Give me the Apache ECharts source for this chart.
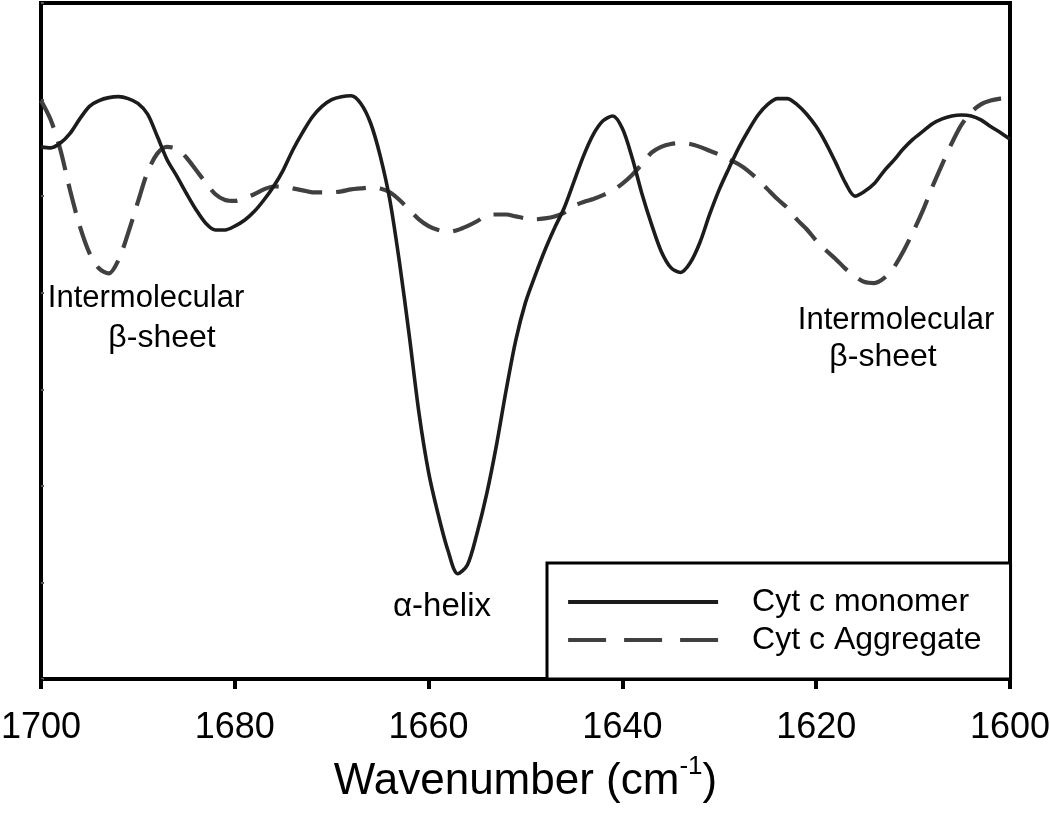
<!DOCTYPE html>
<html>
<head>
<meta charset="utf-8">
<script src="https://cdn.jsdelivr.net/npm/echarts@6/dist/echarts.min.js"></script>
<style>html,body{margin:0;padding:0;background:#fff}#c{width:1050px;height:831px}</style>
</head>
<body>
<div id="c"></div>
<script>
// Wavenumber (cm-1)
var wavenumbers = [1700,1699,1698,1697,1696,1695,1694,1693,1692,1691,1690,1689,1688,1687,1686,1685,1684,1683,1682,1681,
  1680,1679,1678,1677,1676,1675,1674,1673,1672,1671,1670,1669,1668,1667,1666,1665,1664,1663,1662,1661,
  1660,1659,1658,1657,1656,1655,1654,1653,1652,1651,1650,1649,1648,1647,1646,1645,1644,1643,1642,1641,
  1640,1639,1638,1637,1636,1635,1634,1633,1632,1631,1630,1629,1628,1627,1626,1625,1624,1623,1622,1621,
  1620,1619,1618,1617,1616,1615,1614,1613,1612,1611,1610,1609,1608,1607,1606,1605,1604,1603,1602,1601,1600];
// Spectra (arbitrary units)
var monomer = [5.51,5.50,5.55,5.65,5.80,5.93,5.99,6.02,6.03,6.01,5.96,5.85,5.62,5.38,5.21,5.03,4.86,4.72,4.65,4.65,
  4.69,4.75,4.84,4.96,5.10,5.27,5.48,5.66,5.82,5.93,6.00,6.03,6.04,5.96,5.76,5.42,4.96,4.31,3.56,2.76,
  2.14,1.70,1.33,1.09,1.18,1.51,1.92,2.42,2.99,3.51,3.90,4.18,4.44,4.67,4.88,5.15,5.42,5.64,5.78,5.83,
  5.70,5.40,5.03,4.71,4.43,4.26,4.21,4.31,4.52,4.81,5.07,5.29,5.50,5.68,5.84,5.95,6.01,6.01,5.95,5.85,
  5.72,5.55,5.35,5.14,5.00,5.05,5.13,5.26,5.37,5.49,5.59,5.67,5.75,5.80,5.83,5.84,5.83,5.79,5.72,5.66,5.59];
var aggregate = [5.99,5.79,5.48,5.06,4.69,4.41,4.25,4.20,4.34,4.62,4.94,5.25,5.44,5.51,5.49,5.40,5.27,5.14,5.02,4.96,
  4.95,4.98,5.02,5.07,5.10,5.10,5.08,5.06,5.04,5.04,5.04,5.05,5.07,5.08,5.09,5.08,5.04,4.96,4.86,4.76,
  4.69,4.65,4.63,4.65,4.69,4.74,4.80,4.81,4.81,4.79,4.77,4.76,4.77,4.79,4.83,4.90,4.94,4.97,5.01,5.06,
  5.13,5.22,5.33,5.45,5.51,5.54,5.55,5.54,5.51,5.47,5.43,5.38,5.33,5.26,5.17,5.07,4.97,4.88,4.76,4.66,
  4.54,4.44,4.35,4.25,4.17,4.11,4.10,4.15,4.26,4.43,4.63,4.85,5.10,5.33,5.55,5.74,5.87,5.95,5.99,6.01,6.02];
var seriesNames = ['Cyt c monomer', 'Cyt c Aggregate'];
var xTicks = {min: 1600, max: 1700, interval: 20};
var yTicks = {min: 0, max: 7, interval: 1};
var annotations = [
  {text: 'Intermolecular', x: 146, y: 298, size: 31},
  {text: '\u03b2-sheet', x: 162, y: 338, size: 32},
  {text: 'Intermolecular', x: 896, y: 320, size: 31},
  {text: '\u03b2-sheet', x: 883, y: 357, size: 32},
  {text: '\u03b1-helix', x: 442, y: 607, size: 33}
];

function pairs(xs, ys) { return xs.map(function (x, i) { return [x, ys[i]]; }); }

var FONT = '"Liberation Sans", Arial, Helvetica, sans-serif';
var HIDDEN_SYMBOL = {color: 'rgba(0,0,0,0)', borderWidth: 0, opacity: 0};
var chart = echarts.init(document.getElementById('c'), null, {renderer: 'canvas'});
chart.setOption({
  animation: false,
  backgroundColor: '#ffffff',
  grid: {left: 41, right: 40, top: 3, bottom: 152, containLabel: false, outerBoundsMode: 'none',
    show: true, borderColor: '#000', borderWidth: 4, backgroundColor: 'transparent'},
  xAxis: {
    type: 'value', inverse: true, min: xTicks.min, max: xTicks.max, interval: xTicks.interval,
    axisLine: {lineStyle: {color: '#000', width: 4}},
    axisTick: {length: 10, lineStyle: {color: '#000', width: 4}},
    axisLabel: {color: '#000', fontSize: 36, fontFamily: FONT, margin: 31, formatter: function (v) { return String(v); }},
    splitLine: {show: false},
    name: '{a|Wavenumber (cm}{s|-1}{a|)}',
    nameLocation: 'middle', nameGap: 75,
    nameTextStyle: {
      rich: {
        a: {fontSize: 44, fontFamily: FONT, color: '#000', lineHeight: 50, verticalAlign: 'bottom'},
        s: {fontSize: 26, fontFamily: FONT, color: '#000', lineHeight: 50, verticalAlign: 'top'}
      }
    }
  },
  yAxis: {
    type: 'value', min: yTicks.min, max: yTicks.max, interval: yTicks.interval,
    axisLine: {show: true, lineStyle: {color: '#000', width: 4}},
    axisTick: {show: true, inside: true, length: 3, lineStyle: {color: '#555', width: 2}},
    axisLabel: {show: false},
    splitLine: {show: false}
  },
  legend: {
    orient: 'vertical', left: 547, top: 563,
    padding: [23, 29, 23, 19],
    itemWidth: 150, itemHeight: 20, itemGap: 6,
    borderColor: '#000', borderWidth: 3, backgroundColor: '#fff',
    textStyle: {fontSize: 32, fontFamily: FONT, color: '#000', padding: [0, 0, 0, 29]},
    data: [
      {name: seriesNames[0], lineStyle: {width: 4}, itemStyle: HIDDEN_SYMBOL},
      {name: seriesNames[1], lineStyle: {width: 4.2, type: [38, 18]}, itemStyle: HIDDEN_SYMBOL}
    ]
  },
  series: [
    {
      name: seriesNames[0], type: 'line', data: pairs(wavenumbers, monomer),
      symbol: 'none', smooth: 0.3, z: 3,
      lineStyle: {color: '#1c1c1c', width: 3.6},
      itemStyle: {color: '#1c1c1c'}
    },
    {
      name: seriesNames[1], type: 'line', data: pairs(wavenumbers, aggregate),
      symbol: 'none', smooth: 0.3, z: 2,
      lineStyle: {color: '#404040', width: 4.2, type: [30, 14]},
      itemStyle: {color: '#404040'}
    }
  ],
  graphic: annotations.map(function (a) {
    return {type: 'text', x: a.x, y: a.y, z: 10,
      style: {text: a.text, fontSize: a.size, fontFamily: FONT, fill: '#000', textAlign: 'center', textVerticalAlign: 'middle'}};
  })
});
</script>
</body>
</html>
